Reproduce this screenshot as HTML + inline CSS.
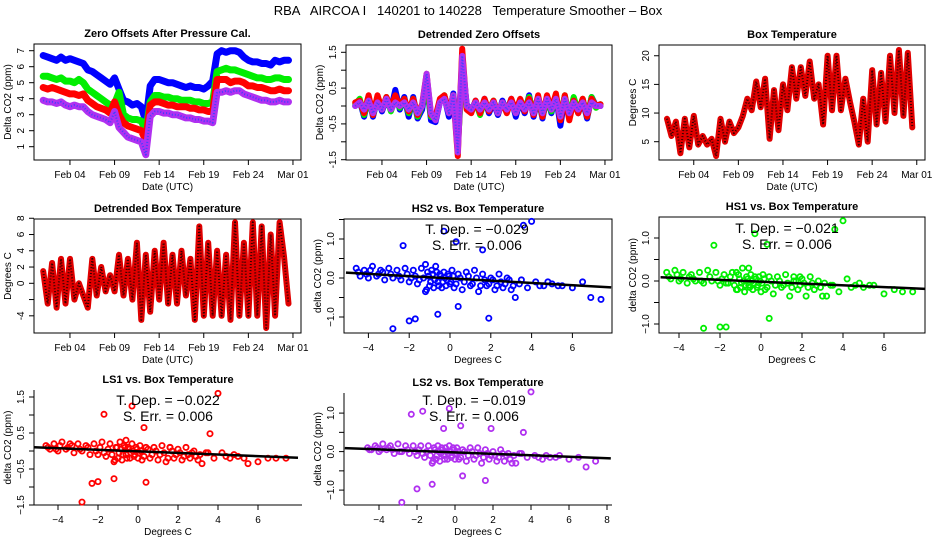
<!DOCTYPE html>
<html><head><meta charset="utf-8"><style>
html,body{margin:0;padding:0;background:#fff;}
svg{display:block;font-family:"Liberation Sans",Arial,sans-serif;}
</style></head><body>
<svg id="chart" width="936" height="540" viewBox="0 0 936 540">
<rect x="0" y="0" width="936" height="540" fill="#fff"/>
<text x="468" y="15" text-anchor="middle" font-size="13" style="white-space:pre" xml:space="preserve">RBA   AIRCOA I   140201 to 140228   Temperature Smoother – Box</text>
</svg>
<script>
// ---- time-series data (day offset from Feb 01) ----
const days = [0,0.5,1,1.5,2,2.5,3,3.5,4,4.5,5,5.5,6,6.5,7,7.5,8,8.5,9,9.5,10,10.5,11,11.5,12,12.5,13,13.5,14,14.5,15,15.5,16,16.5,17,17.5,18,18.5,19,19.5,20,20.5,21,21.5,22,22.5,23,23.5,24,24.5,25,25.5,26,26.5,27,27.5];
const dateTickDays = [3,8,13,18,23,28];
const dateTickLabels = ['Feb 04','Feb 09','Feb 14','Feb 19','Feb 24','Mar 01'];
const zeroBlue = [6.7,6.6,6.5,6.4,6.6,6.4,6.5,6.4,6.3,6.2,5.8,5.7,5.5,5.3,5.1,4.9,5.3,4.6,3.9,3.8,3.6,3.7,3.5,2.6,4.8,5.2,5.2,5.1,5.0,5.0,4.9,4.8,4.7,4.8,4.7,4.7,4.6,4.8,5.1,6.8,7.0,6.9,7.0,7.0,6.9,6.6,6.4,6.3,6.3,6.2,6.2,6.1,6.4,6.3,6.4,6.4];
const zeroGreen = [5.4,5.4,5.3,5.2,5.3,5.1,5.1,5.0,5.2,5.0,4.6,4.4,4.2,4.0,3.8,3.6,3.7,4.4,3.0,2.8,2.7,2.7,2.6,2.0,3.8,4.2,4.2,4.1,4.1,4.0,4.0,3.9,3.9,3.9,3.8,3.8,3.7,3.7,3.8,5.7,5.8,5.9,5.8,5.8,5.7,5.6,5.5,5.4,5.3,5.3,5.2,5.2,5.3,5.3,5.2,5.2];
const zeroRed = [4.7,4.6,4.7,4.6,4.5,4.4,4.3,4.3,4.2,4.3,3.9,3.7,3.5,3.4,3.3,3.1,3.8,3.0,2.5,2.3,2.2,2.1,2.0,1.4,3.6,3.8,3.8,3.7,3.6,3.6,3.5,3.5,3.5,3.4,3.4,3.3,3.3,3.2,3.2,5.2,5.2,5.2,5.0,5.1,5.1,5.0,4.8,4.8,4.7,4.7,4.6,4.5,4.5,4.6,4.5,4.5];
const zeroPurple = [3.9,3.8,3.8,3.7,3.8,3.6,3.5,3.6,3.5,3.5,3.2,3.0,2.9,2.8,2.7,2.5,3.2,2.2,1.9,1.6,1.5,1.4,1.3,0.5,2.9,3.2,3.2,3.1,3.1,3.0,3.0,2.9,2.8,2.8,2.7,2.7,2.6,2.6,2.5,4.4,4.4,4.5,4.4,4.5,4.5,4.3,4.2,4.1,4.0,3.9,3.9,3.8,3.8,3.9,3.8,3.8];
const detBlue = [0.0,0.15,-0.3,0.25,-0.3,0.2,-0.15,0.2,-0.1,0.45,-0.1,0.25,-0.3,0.25,-0.35,-0.1,0.7,-0.4,-0.45,0.1,0.25,-0.3,0.35,-1.0,1.2,0.05,-0.15,0.15,-0.2,0.2,-0.2,0.1,-0.25,0.15,-0.15,0.2,-0.3,0.15,-0.2,0.3,-0.3,0.25,-0.35,0.25,-0.2,0.3,-0.55,0.25,-0.35,0.2,-0.2,0.15,-0.35,0.25,0.0,0.0];
const detGreen = [0.05,0.2,-0.25,0.2,-0.25,0.15,-0.1,0.25,-0.15,0.2,-0.05,0.2,-0.2,0.2,-0.3,0.0,0.6,-0.3,-0.35,0.15,0.3,-0.2,0.3,-1.1,0.8,0.0,-0.1,0.1,-0.25,0.15,-0.1,0.15,-0.2,0.1,-0.1,0.15,-0.2,0.1,-0.1,0.25,-0.2,0.2,-0.3,0.2,-0.15,0.25,-0.3,0.3,-0.3,0.25,-0.15,0.2,-0.3,0.25,-0.05,0.05];
const detRed = [0.1,0.15,-0.2,0.3,-0.25,0.3,-0.1,0.25,-0.05,0.3,0.0,0.2,-0.15,0.2,-0.25,0.05,0.9,-0.25,-0.3,0.2,0.3,-0.15,0.3,-1.4,1.6,-0.1,-0.2,0.15,-0.2,0.2,-0.15,0.15,-0.2,0.1,-0.2,0.2,-0.15,0.2,-0.15,0.2,-0.25,0.3,-0.3,0.3,-0.1,0.35,-0.4,0.3,-0.4,0.15,-0.2,0.2,-0.3,0.2,0.0,0.05];
const detPurple = [0.0,0.1,-0.1,0.15,-0.2,0.1,-0.1,0.2,-0.1,0.1,0.0,0.1,-0.1,0.1,-0.2,0.0,0.9,-0.2,-0.4,0.1,0.2,-0.2,0.3,-1.3,1.4,0.0,-0.1,0.1,-0.1,0.1,-0.1,0.1,-0.2,0.1,-0.1,0.1,-0.2,0.1,-0.1,0.1,-0.2,0.2,-0.2,0.2,-0.1,0.2,-0.3,0.2,-0.2,0.1,-0.1,0.1,-0.2,0.1,0.0,0.0];
const boxTemp = [9,6,8.5,3,9,4,9.5,4.5,6,4.5,5.5,2.5,9,5,8.5,6.5,7.5,9.5,12.5,10.5,15.5,11,16,5.5,14,7,15,10.5,18,12.5,18,13,19,12.5,15,8,20,10.5,20,10.5,16,12,8.5,4.5,12.5,5,17.5,8,17,8.5,20,10,21,9.5,20.5,7.5];
const boxTempDet = [1.5,-2.5,2.5,-3,3,-2.5,3,-2,0,-1.5,-3,3,-1.5,2,-1,1,-1,3.5,-1.5,3,-2,5,-4.5,3.5,-3.5,4,-2,5,-2.5,3.5,-2.5,4,-1.5,3,-4.5,7,-4,5,-4,4,-4,3.5,-4.5,7.5,-4,5,-4,7.5,-4,7,-5.5,6,-4,7.5,3.3,-2.5];

// ---- scatter data: box temperature (deg C) vs detrended CO2 (ppm) ----
const tempX = [-4.6,-4.4,-4.2,-4.0,-3.8,-3.6,-3.4,-3.2,-3.0,-2.8,-2.6,-2.4,-2.2,-2.0,-1.8,-1.6,-1.4,-1.2,-1.1,-1.0,-0.9,-0.8,-0.7,-0.6,-0.5,-0.4,-0.3,-0.2,-0.1,0.0,0.1,0.2,0.4,0.6,0.8,1.0,1.2,1.4,1.6,1.8,2.0,2.2,2.4,2.6,2.8,3.0,3.2,3.5,3.8,4.2,4.6,5.0,5.5,6.0,6.5,-2.8,-2.3,-2.0,-1.7,-0.6,-0.3,0.3,0.4,1.6,1.9,3.6,4.0,6.9,7.4,-1.2];
const hs2Y = [0.25,0.05,0.2,0.0,0.3,0.05,0.2,-0.05,0.25,0.0,0.2,-0.05,0.25,-0.1,0.2,-0.15,0.25,-0.35,0.15,-0.2,0.2,-0.25,0.3,-0.1,0.1,-0.25,0.15,-0.2,0.1,-0.15,0.2,-0.25,0.1,-0.3,0.15,-0.2,0.2,-0.35,0.1,-0.2,0.0,-0.3,0.1,-0.25,0.0,-0.3,-0.5,-0.05,-0.25,-0.1,-0.2,-0.15,-0.2,-0.25,-0.1,-1.3,0.83,-1.1,-1.05,-0.93,1.2,0.93,-0.73,0.72,-1.03,1.35,1.45,-0.5,-0.55,0.35];
const hs1Y = [0.2,0.05,0.25,0.0,0.2,-0.05,0.15,0.0,0.2,-0.05,0.25,0.0,0.2,-0.1,0.15,-0.05,0.2,-0.2,0.15,-0.15,0.3,-0.25,0.1,-0.1,0.15,-0.2,0.1,-0.15,0.1,-0.25,0.15,-0.2,0.1,-0.3,0.1,-0.15,0.15,-0.35,0.1,-0.2,0.05,-0.35,0.1,-0.2,0.0,-0.35,-0.35,-0.1,-0.25,0.05,-0.1,-0.15,-0.1,-0.3,-0.2,-1.1,0.83,-1.07,-1.07,0.3,1.1,0.85,-0.87,0.0,0.1,1.2,1.4,-0.25,-0.25,0.2];
const ls1Y = [0.15,0.05,0.2,0.0,0.25,0.05,0.2,-0.05,0.2,0.0,0.15,-0.1,0.2,-0.1,0.25,-0.15,0.2,-0.3,0.1,-0.2,0.25,-0.25,0.15,-0.1,0.1,-0.2,0.2,-0.15,0.1,-0.2,0.15,-0.25,0.1,-0.2,0.1,-0.25,0.15,-0.3,0.1,-0.2,0.05,-0.25,0.1,-0.2,0.0,-0.25,-0.35,-0.05,-0.2,-0.05,-0.2,-0.15,-0.35,-0.3,-0.2,-1.42,-0.9,-0.85,1.02,0.3,1.25,0.65,-0.87,0.1,-0.1,0.48,1.6,-0.2,-0.2,-0.77];
const ls2Y = [0.1,0.05,0.15,0.0,0.2,0.05,0.15,-0.05,0.2,0.0,0.15,-0.05,0.15,-0.1,0.15,-0.15,0.15,-0.3,0.1,-0.2,0.15,-0.25,0.1,-0.1,0.1,-0.2,0.15,-0.15,0.1,-0.2,0.1,-0.2,0.05,-0.25,0.1,-0.2,0.1,-0.3,0.05,-0.2,0.0,-0.25,0.05,-0.25,-0.05,-0.3,-0.3,-0.05,-0.15,-0.1,-0.2,-0.15,-0.1,-0.2,-0.15,-1.32,0.97,-0.97,1.05,0.6,1.12,0.67,-0.63,-0.75,0.6,0.5,1.55,-0.4,-0.25,-0.85];
const tempX2 = [-4.5,-4.1,-3.9,-3.5,-3.3,-2.9,-2.5,-2.1,-1.9,-1.7,-1.5,-1.3,-1.15,-1.05,-0.95,-0.85,-0.75,-0.65,-0.55,-0.45,-0.35,-0.25,-0.15,-0.05,0.05,0.15,0.3,0.5,0.7,0.9,1.1,1.3,1.5,1.7,1.9,2.1,2.3,2.5,2.7,2.9,3.1,3.4,4.4,4.8,5.3];
const hs2Y2 = [0.15,0.1,0.2,0.1,0.15,0.1,0.05,0.1,0.0,0.05,-0.05,0.0,-0.3,0.05,-0.1,0.1,-0.05,0.15,-0.2,0.05,-0.1,0.0,-0.05,0.05,-0.1,0.05,-0.15,0.0,-0.1,0.05,-0.15,0.0,-0.2,-0.05,-0.15,-0.05,-0.2,-0.1,-0.15,-0.05,-0.2,-0.15,-0.2,-0.1,-0.2];
const hs1Y2 = [0.1,0.15,0.05,0.1,0.05,0.0,0.1,0.0,0.05,-0.05,0.1,-0.1,-0.2,0.05,-0.05,0.0,-0.1,0.05,-0.15,0.0,-0.05,0.05,-0.1,0.0,-0.05,0.05,-0.15,0.0,-0.1,0.0,-0.1,-0.05,-0.15,0.0,-0.1,-0.05,-0.15,-0.05,-0.1,-0.15,-0.05,-0.1,-0.15,-0.05,-0.1];
const ls1Y2 = [0.1,0.05,0.15,0.1,0.15,0.05,0.1,0.0,0.1,-0.05,0.05,-0.1,-0.25,0.1,-0.05,0.05,-0.1,0.1,-0.2,0.05,-0.05,0.0,-0.1,0.05,-0.05,0.0,-0.15,0.05,-0.1,0.0,-0.1,-0.05,-0.2,0.0,-0.1,-0.05,-0.15,-0.1,-0.05,-0.15,-0.1,-0.05,-0.15,-0.1,-0.2];
const ls2Y2 = [0.05,0.1,0.05,0.1,0.05,0.0,0.05,0.0,0.05,-0.05,0.0,-0.1,-0.25,0.05,-0.1,0.0,-0.05,0.05,-0.2,0.0,-0.05,0.0,-0.1,0.05,-0.05,0.0,-0.15,0.0,-0.1,0.0,-0.1,-0.05,-0.15,-0.05,-0.1,-0.1,-0.15,-0.05,-0.1,-0.2,-0.1,-0.05,-0.15,-0.1,-0.15];
const tDep = [-0.029,-0.021,-0.022,-0.019];
const sErr = [0.006,0.006,0.006,0.006];
const fitIntercept = [-0.01,-0.015,-0.01,-0.02];

const NS = 'http://www.w3.org/2000/svg';
const svg = document.getElementById('chart');
function mk(tag, attrs, parent) {
  const e = document.createElementNS(NS, tag);
  for (const k in attrs) e.setAttribute(k, attrs[k]);
  (parent || svg).appendChild(e);
  return e;
}
function txt(s, x, y, size, opts, parent) {
  const e = mk('text', Object.assign({x: x, y: y, 'font-size': size, 'text-anchor': 'middle'}, opts || {}), parent);
  e.textContent = s;
  return e;
}

function axesFrame(p, g) {
  const [L, T, R, B] = p.box;
  if (p.boxed) {
    const r = mk('rect', {x: L, y: T, width: R - L, height: B - T, fill: 'none', stroke: '#000', 'stroke-width': 1}, g);
    
    
  } else {
    const la = mk('line', {x1: L, y1: T, x2: L, y2: B, stroke: '#000'}, g);
    
    
    const ba = mk('line', {x1: L, y1: B, x2: R, y2: B, stroke: '#000'}, g);
    
    
  }
  const t = txt(p.title, (L + R) / 2, T - 7, 11, {'font-weight': 'bold'}, g);
  
  
  p.xTicks.forEach((v, i) => {
    const x = p.xf(v);
    const tl = mk('line', {x1: x, y1: B, x2: x, y2: B + 5, stroke: '#000'}, g);
    
    
    const lb = txt(p.xLabels[i], x, B + 18, 10, {}, g);
    
    
  });
  p.yTicks.forEach((v, i) => {
    const y = p.yf(v);
    const tl = mk('line', {x1: L - 5, y1: y, x2: L, y2: y, stroke: '#000'}, g);
    
    
    if (p.yLabels[i] !== '') {
      const lb = txt(p.yLabels[i], L - 10, y, 10, {transform: 'rotate(-90 ' + (L - 10) + ' ' + y + ')'}, g);
      
      
    }
  });
  const xt = txt(p.xTitle, (L + R) / 2, B + 30, 10, {}, g);
  
  
  const yx = L - 23, yy = (T + B) / 2;
  const yt = txt(p.yTitle, yx, yy, 10, {transform: 'rotate(-90 ' + yx + ' ' + yy + ')'}, g);
  
  
}

function drawSeries(p, g, xs, ys, color, width, name, overlay) {
  const pts = xs.map((d, i) => p.xf(d).toFixed(1) + ',' + p.yf(ys[i]).toFixed(1)).join(' ');
  const pl = mk('polyline', {points: pts, fill: 'none', stroke: color, 'stroke-width': width, 'stroke-linejoin': 'round', 'stroke-linecap': 'round'}, g);
  
  
  if (overlay) {
    const ov = mk('polyline', {points: pts, fill: 'none', stroke: overlay, 'stroke-width': 2, 'stroke-dasharray': '1 2', 'stroke-linejoin': 'round'}, g);
    
    
  }
}

function drawPoints(p, g, xs, ys, color, name) {
  xs.forEach((x, i) => {
    const c = mk('circle', {cx: p.xf(x).toFixed(1), cy: p.yf(ys[i]).toFixed(1), r: 2.6, fill: 'none', stroke: color, 'stroke-width': 1.8}, g);
    
    
  });
}

function panelGroup(name) {
  const g = mk('g', {});
  
  
  return g;
}

const p1 = {box: [34, 44, 301, 160], boxed: true, title: 'Zero Offsets After Pressure Cal.',
  xf: d => 43.2 + d * 8.92, yf: v => 146.7 - (v - 1) * 16,
  xTicks: dateTickDays, xLabels: dateTickLabels, yTicks: [1,2,3,4,5,6,7], yLabels: ['1','2','3','4','5','6','7'],
  xTitle: 'Date (UTC)', yTitle: 'Delta CO2 (ppm)'};
const g1 = panelGroup('zero-offsets-panel');
axesFrame(p1, g1);
drawSeries(p1, g1, days, zeroBlue, '#0000ff', 7, 'series-hs2');
drawSeries(p1, g1, days, zeroGreen, '#00ee00', 7, 'series-hs1');
drawSeries(p1, g1, days, zeroRed, '#ff0000', 7, 'series-ls1');
drawSeries(p1, g1, days, zeroPurple, '#b030f0', 7, 'series-ls2', '#4040ff');

const p2 = {box: [346, 45, 612, 160], boxed: true, title: 'Detrended Zero Offsets',
  xf: d => 355.2 + d * 8.92, yf: v => 106 - v * 35.8,
  xTicks: dateTickDays, xLabels: dateTickLabels, yTicks: [-1.5,-1,-0.5,0,0.5,1,1.5], yLabels: ['-1.5','','-0.5','','0.5','','1.5'],
  xTitle: 'Date (UTC)', yTitle: 'Delta CO2 (ppm)'};
const g2 = panelGroup('detrended-zero-offsets-panel');
axesFrame(p2, g2);
drawSeries(p2, g2, days, detBlue, '#0000ff', 6, 'series-hs2');
drawSeries(p2, g2, days, detGreen, '#00ee00', 6, 'series-hs1');
drawSeries(p2, g2, days, detRed, '#ff0000', 6, 'series-ls1');
drawSeries(p2, g2, days, detPurple, '#b030f0', 6, 'series-ls2', '#4040ff');

const p3 = {box: [659, 45, 925, 160], boxed: true, title: 'Box Temperature',
  xf: d => 667 + d * 8.92, yf: v => 141.7 - (v - 5) * 5.73,
  xTicks: dateTickDays, xLabels: dateTickLabels, yTicks: [5,10,15,20], yLabels: ['5','10','15','20'],
  xTitle: 'Date (UTC)', yTitle: 'Degrees C'};
const g3 = panelGroup('box-temperature-panel');
axesFrame(p3, g3);
drawSeries(p3, g3, days, boxTemp, '#e00000', 6, 'box-temperature-series', '#300000');

const p4 = {box: [34, 219, 301, 333], boxed: true, title: 'Detrended Box Temperature',
  xf: d => 43.2 + d * 8.92, yf: v => 283.3 - v * 8.13,
  xTicks: dateTickDays, xLabels: dateTickLabels, yTicks: [-4,-2,0,2,4,6,8], yLabels: ['-4','','0','2','4','6','8'],
  xTitle: 'Date (UTC)', yTitle: 'Degrees C'};
const g4 = panelGroup('detrended-box-temperature-panel');
axesFrame(p4, g4);
drawSeries(p4, g4, days, boxTempDet, '#e00000', 6, 'detrended-box-temperature-series', '#300000');

function scatterPanel(p, ys, ys2, color, idx, name, tx, ty) {
  const g = panelGroup(name);
  axesFrame(p, g);
  drawPoints(p, g, tempX, ys, color, 'scatter-point');
  drawPoints(p, g, tempX2, ys2, color, 'scatter-point');
  const x0 = p.xRange[0], x1 = p.xRange[1];
  const fl = mk('line', {x1: p.xf(x0), y1: p.yf(fitIntercept[idx] + tDep[idx] * x0), x2: p.xf(x1), y2: p.yf(fitIntercept[idx] + tDep[idx] * x1), stroke: '#000', 'stroke-width': 2.5}, g);
  
  
  const a = txt('T. Dep. =  ' + String(tDep[idx]).replace('-', '\u2212'), tx, ty, 14, {}, g);
  
  
  const b = txt('S. Err. =  ' + sErr[idx].toFixed(3), tx, ty + 16, 14, {}, g);
  
  
}

const p5 = {box: [344, 219, 612, 333], boxed: true, title: 'HS2 vs. Box Temperature',
  xf: x => 450 + x * 20.4, yf: v => 278 - v * 39, xRange: [-5.1, 7.9],
  xTicks: [-4,-2,0,2,4,6], xLabels: ['\u22124','\u22122','0','2','4','6'], yTicks: [-1,-0.5,0,0.5,1,1.5], yLabels: ['\u22121.0','','0.0','','1.0',''],
  xTitle: 'Degrees C', yTitle: 'delta CO2 (ppm)'};
scatterPanel(p5, hs2Y, hs2Y2, '#0000ff', 0, 'hs2-scatter-panel', 477, 234);

const p6 = {box: [659, 217, 925, 333], boxed: true, title: 'HS1 vs. Box Temperature',
  xf: x => 761 + x * 20.5, yf: v => 281 - v * 43, xRange: [-4.9, 8.0],
  xTicks: [-4,-2,0,2,4,6], xLabels: ['\u22124','\u22122','0','2','4','6'], yTicks: [-1,-0.5,0,0.5,1], yLabels: ['\u22121.0','','0.0','','1.0'],
  xTitle: 'Degrees C', yTitle: 'delta CO2 (ppm)'};
scatterPanel(p6, hs1Y, hs1Y2, '#00ee00', 1, 'hs1-scatter-panel', 787, 233);

const p7 = {box: [34, 390, 302, 505], boxed: false, title: 'LS1 vs. Box Temperature',
  xf: x => 138 + x * 20, yf: v => 451 - v * 36, xRange: [-5.2, 8.0],
  xTicks: [-4,-2,0,2,4,6], xLabels: ['\u22124','\u22122','0','2','4','6'], yTicks: [-1.5,-1,-0.5,0,0.5,1,1.5], yLabels: ['\u22121.5','','\u22120.5','','0.5','','1.5'],
  xTitle: 'Degrees C', yTitle: 'delta CO2 (ppm)'};
scatterPanel(p7, ls1Y, ls1Y2, '#ff0000', 2, 'ls1-scatter-panel', 168, 405);

const p8 = {box: [344, 393, 612, 505], boxed: false, title: 'LS2 vs. Box Temperature',
  xf: x => 455 + x * 19, yf: v => 451.6 - v * 38.5, xRange: [-5.8, 8.2],
  xTicks: [-4,-2,0,2,4,6,8], xLabels: ['\u22124','\u22122','0','2','4','6','8'], yTicks: [-1,-0.5,0,0.5,1], yLabels: ['\u22121.0','','0.0','','1.0'],
  xTitle: 'Degrees C', yTitle: 'delta CO2 (ppm)'};
scatterPanel(p8, ls2Y, ls2Y2, '#b030f0', 3, 'ls2-scatter-panel', 474, 405);
</script>
</body></html>
